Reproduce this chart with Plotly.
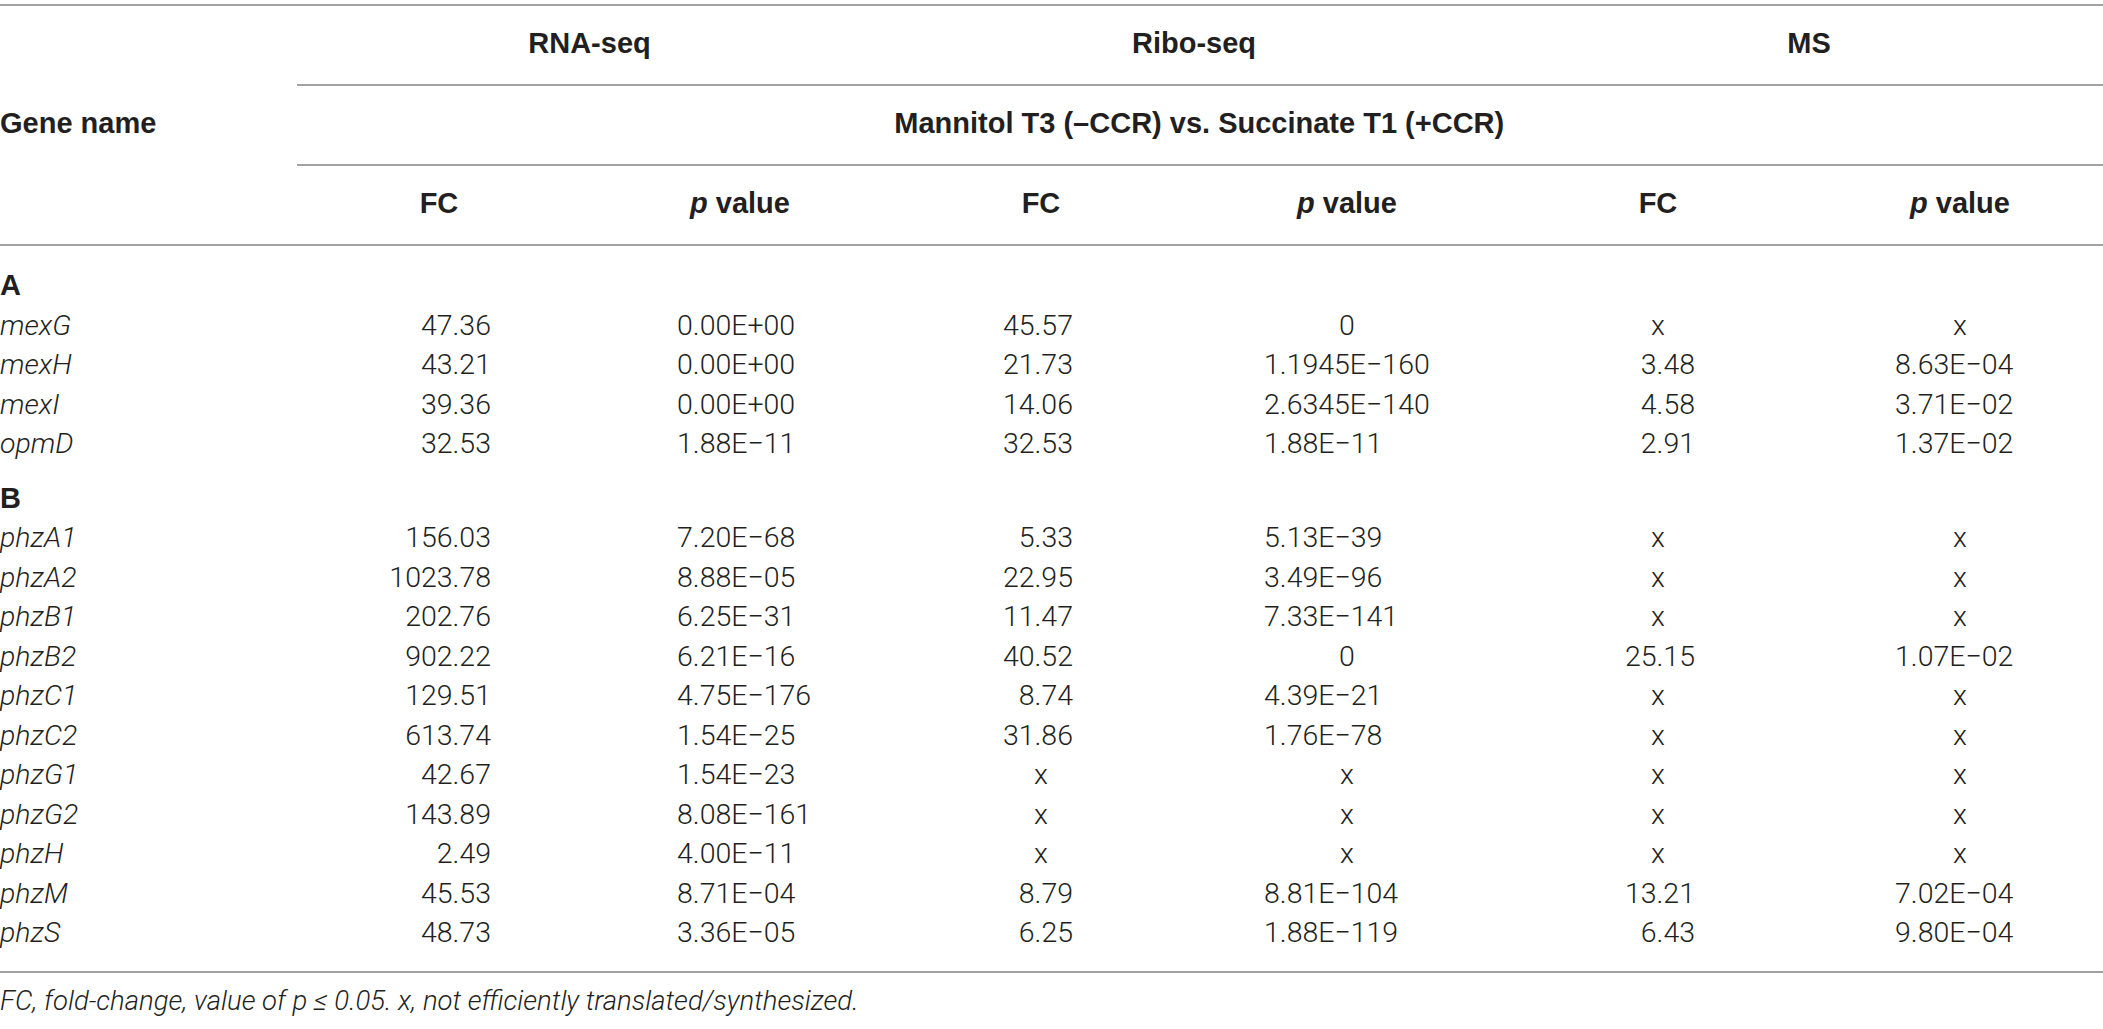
import plotly.graph_objects as go

# --- table content -------------------------------------------------------
group_labels = ["A", "B"]

genes_a = ["mexG", "mexH", "mexI", "opmD"]
rna_fc_a = ["47.36", "43.21", "39.36", "32.53"]
rna_p_a = ["0.00E+00", "0.00E+00", "0.00E+00", "1.88E−11"]
ribo_fc_a = ["45.57", "21.73", "14.06", "32.53"]
ribo_p_a = ["0", "1.1945E−160", "2.6345E−140", "1.88E−11"]
ms_fc_a = ["x", "3.48", "4.58", "2.91"]
ms_p_a = ["x", "8.63E−04", "3.71E−02", "1.37E−02"]

genes_b = ["phzA1", "phzA2", "phzB1", "phzB2", "phzC1", "phzC2",
           "phzG1", "phzG2", "phzH", "phzM", "phzS"]
rna_fc_b = ["156.03", "1023.78", "202.76", "902.22", "129.51", "613.74",
            "42.67", "143.89", "2.49", "45.53", "48.73"]
rna_p_b = ["7.20E−68", "8.88E−05", "6.25E−31", "6.21E−16", "4.75E−176", "1.54E−25",
           "1.54E−23", "8.08E−161", "4.00E−11", "8.71E−04", "3.36E−05"]
ribo_fc_b = ["5.33", "22.95", "11.47", "40.52", "8.74", "31.86",
             "x", "x", "x", "8.79", "6.25"]
ribo_p_b = ["5.13E−39", "3.49E−96", "7.33E−141", "0", "4.39E−21", "1.76E−78",
            "x", "x", "x", "8.81E−104", "1.88E−119"]
ms_fc_b = ["x", "x", "x", "25.15", "x", "x", "x", "x", "x", "13.21", "6.43"]
ms_p_b = ["x", "x", "x", "1.07E−02", "x", "x", "x", "x", "x", "7.02E−04", "9.80E−04"]

methods = ["RNA-seq", "Ribo-seq", "MS"]
comparison = "Mannitol T3 (–CCR) vs. Succinate T1 (+CCR)"
sub_headers = ["FC", "<i>p</i> value"] * 3
gene_header = "Gene name"
footnote = "FC, fold-change, value of p ≤ 0.05. x, not efficiently translated/synthesized."

# --- geometry (pixel space of the page) -----------------------------------
W, H = 2103, 1029
FONT_LIGHT = dict(family="Roboto, Liberation Sans, sans-serif", size=28.5, color="#231f20", weight=300)
FONT_BOLD = dict(family="Liberation Sans, Roboto, sans-serif", size=29, color="#231f20", weight="bold")
LINE = dict(color="#a3a3a3", width=2)

# anchor x for numbers, alignment, centre x (used for headers and x / 0 cells)
col_specs = [
    ("right", 491, 439),
    ("left", 677, 740),
    ("right", 1073, 1041),
    ("left", 1264, 1347),
    ("right", 1695, 1658),
    ("left", 1895, 1960),
]

header_y = [46, 126, 206]
header_lines = [5, 85, 165, 245]
row_pitch = 39.5
group_gap = 15
first_row_y = 288
bottom_line_y = 972
footnote_y = 1003

# build rows: (kind, label, values per column)
rows = [("group", group_labels[0], None)]
for i, g in enumerate(genes_a):
    rows.append(("gene", g, [rna_fc_a[i], rna_p_a[i], ribo_fc_a[i], ribo_p_a[i], ms_fc_a[i], ms_p_a[i]]))
rows.append(("group", group_labels[1], None))
for i, g in enumerate(genes_b):
    rows.append(("gene", g, [rna_fc_b[i], rna_p_b[i], ribo_fc_b[i], ribo_p_b[i], ms_fc_b[i], ms_p_b[i]]))

row_y = []
y = first_row_y
for k, r in enumerate(rows):
    if k > 0:
        y += row_pitch
        if r[0] == "group":
            y += group_gap
    row_y.append(y)

fig = go.Figure()

# first column: group labels (bold) and gene names (italic)
grp_y = [row_y[k] for k, r in enumerate(rows) if r[0] == "group"]
grp_t = [r[1] for r in rows if r[0] == "group"]
gen_y = [row_y[k] for k, r in enumerate(rows) if r[0] == "gene"]
gen_t = [r[1] for r in rows if r[0] == "gene"]

fig.add_trace(go.Scatter(x=[0] * len(grp_y), y=grp_y, text=grp_t, mode="text",
                         textposition="middle right", textfont=FONT_BOLD))
fig.add_trace(go.Scatter(x=[0] * len(gen_y), y=gen_y, text=gen_t, mode="text",
                         textposition="middle right",
                         textfont=dict(FONT_LIGHT, style="italic")))

# data columns
for c, (align, anchor, centre) in enumerate(col_specs):
    xs, ys, ts, tp = [], [], [], []
    for k, r in enumerate(rows):
        if r[0] != "gene":
            continue
        v = r[2][c]
        ys.append(row_y[k])
        ts.append(v)
        if v in ("x", "0"):
            xs.append(centre)
            tp.append("middle center")
        else:
            xs.append(anchor)
            tp.append("middle left" if align == "right" else "middle right")
    fig.add_trace(go.Scatter(x=xs, y=ys, text=ts, mode="text",
                             textposition=tp, textfont=FONT_LIGHT))

# headers
centres = [s[2] for s in col_specs]
method_x = [(centres[2 * i] + centres[2 * i + 1]) / 2 for i in range(3)]
fig.add_trace(go.Scatter(x=method_x, y=[header_y[0]] * 3, text=methods, mode="text",
                         textposition="middle center", textfont=FONT_BOLD))
fig.add_trace(go.Scatter(x=[(method_x[0] + method_x[2]) / 2], y=[header_y[1]], text=[comparison],
                         mode="text", textposition="middle center", textfont=FONT_BOLD))
fig.add_trace(go.Scatter(x=[0], y=[header_y[1]], text=[gene_header], mode="text",
                         textposition="middle right", textfont=FONT_BOLD))
fig.add_trace(go.Scatter(x=centres, y=[header_y[2]] * 6, text=sub_headers, mode="text",
                         textposition="middle center", textfont=FONT_BOLD))

# footnote
fig.add_trace(go.Scatter(x=[0], y=[footnote_y], text=[footnote], mode="text",
                         textposition="middle right",
                         textfont=dict(FONT_LIGHT, size=27.5, style="italic")))

# rules
sub_start = 297
for i, ly in enumerate(header_lines + [bottom_line_y]):
    x0 = sub_start if i in (1, 2) else 0
    fig.add_shape(type="line", x0=x0, x1=W, y0=ly, y1=ly, xref="x", yref="y", line=LINE)

fig.update_traces(cliponaxis=False, hoverinfo="skip", showlegend=False)
fig.update_layout(
    width=W, height=H,
    margin=dict(l=0, r=0, t=0, b=0),
    paper_bgcolor="white", plot_bgcolor="white",
    xaxis=dict(range=[0, W], visible=False, fixedrange=True),
    yaxis=dict(range=[H, 0], visible=False, fixedrange=True),
)

# page body has an 8px default margin; drop it so the table sits flush
fig.write_html("out.html", config={"displayModeBar": False},
               post_script="document.body.style.margin='0';")
